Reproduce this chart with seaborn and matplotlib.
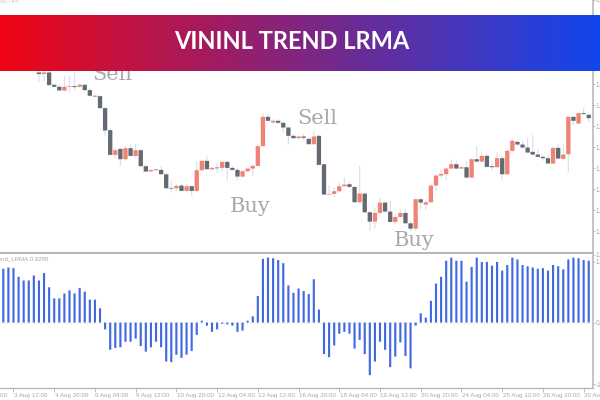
import numpy as np
import pandas as pd
import matplotlib
matplotlib.use("Agg")
import matplotlib.pyplot as plt
import seaborn as sns

# candles, first visible one is bar 7 (earlier ones sit behind the banner)
first_candle = 7
opens = [785, 780, 785, 748, 742, 731, 742, 744, 742, 748, 732, 715, 714, 678, 612, 538, 556, 525, 558, 535,
         552, 504, 489, 492, 493, 480, 439, 438, 446, 430, 444, 430, 492, 520, 495, 500, 499, 517, 499, 493,
         473, 489, 497, 505, 564, 652, 635, 640, 634, 620, 595, 588, 593, 586, 570, 595, 510, 419, 421, 429,
         444, 450, 442, 396, 422, 366, 338, 364, 395, 368, 337, 352, 364, 333, 317, 405, 389, 396, 446, 476,
         480, 497, 510, 497, 501, 470, 525, 518, 535, 504, 501, 528, 480, 550, 577, 569, 560, 547, 539, 532,
         528, 512, 559, 526, 540, 652, 632, 663, 658]
closes = [780, 785, 747, 742, 731, 742, 744, 741, 748, 732, 715, 713, 678, 611, 538, 552, 525, 558, 535, 552,
          504, 488, 493, 495, 480, 438, 437, 445, 430, 444, 430, 492, 520, 495, 499, 498, 517, 499, 493, 473,
          489, 497, 505, 564, 652, 640, 640, 634, 620, 595, 588, 593, 589, 570, 593, 508, 419, 421, 429, 444,
          449, 442, 396, 422, 366, 338, 364, 395, 368, 337, 352, 364, 333, 317, 405, 395, 396, 446, 476, 481,
          497, 510, 497, 501, 470, 525, 518, 535, 502, 501, 528, 480, 550, 580, 569, 560, 545, 539, 532, 528,
          512, 559, 527, 539, 652, 640, 663, 660, 648]
highs = [795, 790, 790, 750, 750, 775, 775, 785, 752, 750, 738, 718, 717, 680, 615, 560, 560, 565, 570, 570,
         555, 510, 495, 497, 505, 482, 460, 452, 452, 450, 447, 520, 522, 535, 502, 515, 517, 520, 505, 500,
         492, 500, 508, 570, 662, 660, 645, 648, 638, 622, 600, 595, 600, 592, 612, 597, 512, 448, 440, 455,
         470, 458, 444, 505, 425, 370, 380, 410, 400, 400, 360, 375, 375, 340, 407, 410, 400, 450, 480, 495,
         500, 525, 520, 505, 520, 528, 565, 545, 540, 520, 545, 535, 555, 588, 582, 580, 590, 598, 555, 538,
         535, 562, 570, 570, 655, 655, 665, 680, 660]
lows = [755, 760, 745, 740, 730, 728, 725, 730, 738, 730, 712, 710, 675, 595, 535, 525, 505, 522, 532, 530,
        503, 487, 485, 490, 478, 435, 425, 430, 428, 428, 415, 428, 490, 494, 490, 485, 485, 460, 490, 460,
        470, 485, 475, 503, 563, 638, 633, 630, 605, 570, 585, 586, 580, 568, 568, 507, 418, 418, 410, 425,
        442, 440, 394, 394, 364, 310, 318, 360, 366, 335, 332, 350, 330, 310, 310, 375, 372, 394, 430, 470,
        460, 495, 495, 495, 468, 468, 515, 516, 500, 490, 500, 460, 478, 545, 567, 555, 542, 535, 530, 520,
        510, 510, 525, 523, 485, 628, 630, 658, 635]

# lower window, one bar per candle
lrma = [.87, .89, .88, .74, .68, .68, .76, .68, .80, .57, .39, .39, .47, .52, .47, .56, .50, .37, .37, .23,
        -.11, -.44, -.41, -.40, -.31, -.31, -.26, -.38, -.47, -.40, -.31, -.40, -.63, -.64, -.52, -.57, -.52, -.46, -.20, .03,
        -.05, -.15, -.11, -.02, -.03, -.05, -.15, -.13, .03, .10, .43, 1.03, 1.05, 1.04, 1.01, .96, .60, .48, .55,
        .51, .46, .70, .21, -.51, -.56, -.37, -.18, -.15, -.18, -.42, -.28, -.51, -.85, -.63, -.31, -.44, -.72, -.55, -.32, -.54, -.74,
        -.05, .15, .08, .35, .63, .74, 1.00, 1.05, 1.00, 1.00, .66, .90, 1.05, .98, .98, .92, .98, .84, .93, 1.05,
        1.02, .93, .91, .89, .87, .88, .84, .93, .91, .86, 1.02, 1.05, 1.04, 1.01, 1.00]

date_bars = [2, 10, 18, 26, 34, 42, 50, 58, 66, 74, 82, 90, 98, 106, 114]
date_labels = ["3 Aug 12:00", "4 Aug 20:00", "6 Aug 04:00", "9 Aug 12:00", "10 Aug 20:00", "12 Aug 04:00",
               "13 Aug 12:00", "16 Aug 20:00", "18 Aug 04:00", "19 Aug 12:00", "20 Aug 20:00", "24 Aug 04:00",
               "25 Aug 12:00", "26 Aug 20:00", "30 Aug 04:00"]
price_ticks = [1002, 939, 876, 813, 750, 687, 624, 561, 498, 435, 372, 309]

GREY = "#b4b4b4"
TXT = "#a9a9a9"
UP = "#f08374"
DOWN = "#646a72"
BLUE = "#4169e1"

sns.set_style("white")
plt.rcParams["font.family"] = ["Liberation Sans", "DejaVu Sans"]

bars = np.arange(first_candle, first_candle + len(opens))
candles = pd.DataFrame({"bar": bars, "open": opens, "close": closes, "high": highs, "low": lows})
candles["dir"] = np.where(candles["close"] >= candles["open"], "up", "down")
bodies = candles.melt(id_vars=["bar", "dir"], value_vars=["open", "close"], value_name="price")
wicks = candles.melt(id_vars=["bar"], value_vars=["high", "low"], value_name="price")
hist = pd.DataFrame({"bar": np.arange(len(lrma)), "lrma": lrma})

W, H = 600, 400
right_px = 593.3
fig = plt.figure(figsize=(6, 4), dpi=100)
ax = fig.add_axes([0, (H - 253) / H, right_px / W, 253 / H])
ax2 = fig.add_axes([0, (H - 388) / H, right_px / W, (388 - 254.5) / H])

xlim = (-0.65, 115.9)

# price window
sns.lineplot(data=wicks, x="bar", y="price", units="bar", estimator=None, sort=False, color="#dfe1ea",
             linewidth=0.9, solid_capstyle="butt", legend=False, ax=ax)
sns.lineplot(data=bodies, x="bar", y="price", units="bar", estimator=None, sort=False, hue="dir",
             palette={"up": UP, "down": DOWN}, linewidth=3.1, solid_capstyle="butt", legend=False, ax=ax)
for line in ax.lines:
    line.set_snap(False)
ax.set_xlim(xlim)
ax.set_ylim(244, 1000)

serif = ["DejaVu Serif"]
for label, x, y in [("Sell", 21.4, 762), ("Sell", 61.7, 631), ("Buy", 48.5, 368), ("Buy", 80.8, 265)]:
    ax.text(x, y, label, ha="center", va="baseline", fontsize=15, color=TXT, family=serif)
ax.text(0.0, 0.9985, "50,744", transform=ax.transAxes, fontsize=4.5, color="#c4c4c4", ha="left", va="center")

# indicator window
ax2.axhline(0, color="#cfcfcf", lw=0.6, ls=(0, (1, 3)), zorder=0)
sns.barplot(data=hist, x="bar", y="lrma", native_scale=True, color=BLUE, saturation=1, width=0.42, ax=ax2)
for p in ax2.patches:
    p.set_snap(False)
    p.set_linewidth(0)
ax2.set_xlim(xlim)
ax2.set_ylim(-1.058, 1.06)
ax2.text(48 / right_px, 0.965, "Vininl_Trend_LRMA 0.9280", transform=ax2.transAxes, fontsize=4.4, color=TXT,
         ha="right", va="center")

for a in (ax, ax2):
    sns.despine(ax=a, left=True, top=True, right=False, bottom=a is ax)
    a.spines["right"].set_color(GREY)
    a.spines["right"].set_linewidth(1.1)
    a.set_xlabel("")
    a.set_ylabel("")
    a.yaxis.tick_right()

ax.spines["bottom"].set_visible(True)
ax.spines["bottom"].set_color(GREY)
ax.spines["bottom"].set_linewidth(1.4)
ax.set_xticks([])
ax.set_yticks(price_ticks)
ax.set_yticklabels(["1.1900"] * len(price_ticks))
ax.tick_params(axis="y", right=True, length=1.5, width=0.6, color=GREY, labelsize=4.7, labelcolor=TXT, pad=0.3)

ax2.spines["bottom"].set_color(GREY)
ax2.spines["bottom"].set_linewidth(0.9)
ax2.set_yticks([1.1, 0.98, 0, -1])
ax2.set_yticklabels(["1.1000", "1.0000", "0.0000", "-1.0000"])
ax2.tick_params(axis="y", right=True, length=1.5, width=0.6, color=GREY, labelsize=4.7, labelcolor=TXT, pad=0.3)
ax2.set_xticks(date_bars)
ax2.set_xticklabels([])
ax2.tick_params(axis="x", bottom=True, length=3, width=0.6, color=GREY)
for b, lab in zip(date_bars, date_labels):
    ax2.annotate(lab, (b, 0), xycoords=("data", "axes fraction"), xytext=(0.3, -6.2), textcoords="offset points",
                 fontsize=4.5, color=TXT, ha="left", va="baseline", annotation_clip=False)
ax2.annotate("31 Jul 20:00", (-6, 0), xycoords=("data", "axes fraction"), xytext=(0.3, -6.2),
             textcoords="offset points", fontsize=4.5, color=TXT, ha="left", va="baseline", annotation_clip=False)

# banner on top of the chart
banner = fig.add_axes([0, (H - 71.5) / H, 1, 57 / H], zorder=5)
left, right = np.array([240, 5, 20]) / 255, np.array([17, 70, 238]) / 255
grad = np.linspace(0, 1, 600)[None, :, None]
banner.imshow(left + (right - left) * grad, aspect="auto", extent=(0, 1, 0, 1))
banner.axis("off")
banner.text(0.4855, 0.53, "VININL TREND LRMA", ha="center", va="center", color="white", fontsize=17,
            fontweight="bold", family="Lato", transform=banner.transAxes)

fig.savefig("out.png", dpi=100)
